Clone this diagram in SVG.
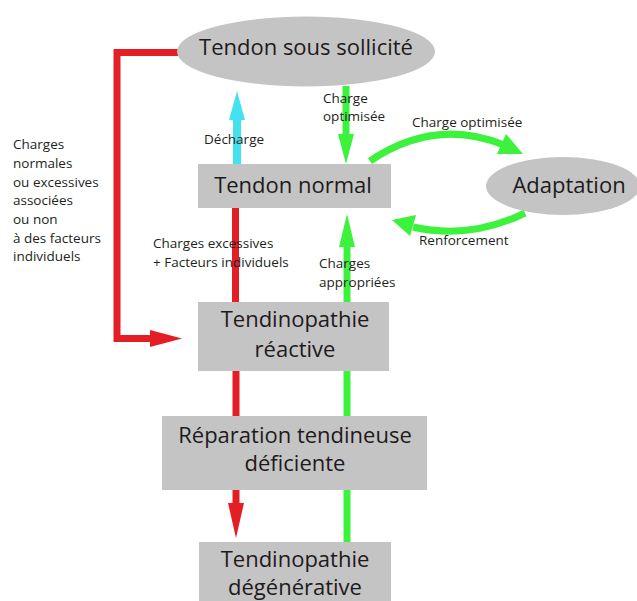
<svg xmlns="http://www.w3.org/2000/svg" width="637" height="601" viewBox="0 0 637 601">
<style>
.box{fill:#c4c4c4}
.big{font-family:"Open Sans","Liberation Sans",sans-serif;font-size:22px;fill:#1e1a1b;text-anchor:middle}
.sm{font-family:"Open Sans","Liberation Sans",sans-serif;font-size:13.5px;fill:#231f20}
.red{stroke:#e31e24;fill:none;stroke-width:7}
.grn{stroke:#3cf23c;fill:none;stroke-width:7}
.cyn{stroke:#44e2f0;fill:none;stroke-width:8}
.rh{fill:#e31e24}
.gh{fill:#3cf23c}
.ch{fill:#44e2f0}
</style>
<rect width="637" height="601" fill="#ffffff"/>
<g id="connectors">
  <path class="red" d="M178,52.5 H117 V338.5 H152"/>
  <polygon class="rh" points="150,330 182,338.5 150,347"/>
  <path class="cyn" d="M237,164 V118"/>
  <polygon class="ch" points="229,120 237,91 245,120"/>
  <path class="grn" d="M346,86 V136"/>
  <polygon class="gh" points="338,134 346,164 354,134"/>
  <path class="grn" d="M347,302 V244"/>
  <polygon class="gh" points="339,247 347,214 355,247"/>
  <path class="red" d="M235.5,208 V302"/>
  <path class="red" d="M236,371 V416"/>
  <path class="grn" d="M347,371 V416"/>
  <path class="red" d="M236,490 V505"/>
  <polygon class="rh" points="228,503 236,538 244,503"/>
  <path class="grn" d="M347,490 V542"/>
  <path class="grn" d="M370,161 Q435,117 504,145"/>
  <polygon class="gh" points="497,154 523,154 506,134"/>
  <path class="grn" d="M525,213 Q470,240 413,227"/>
  <polygon class="gh" points="416,215 392,220 410,236"/>
</g>
<g id="tendon-sous-sollicite">
  <ellipse class="box" cx="306" cy="51.5" rx="129" ry="35"/>
  <text class="big" x="306" y="55">Tendon sous sollicité</text>
</g>
<g id="tendon-normal">
  <rect class="box" x="198" y="164" width="193" height="44"/>
  <text class="big" x="293" y="193">Tendon normal</text>
</g>
<g id="adaptation">
  <ellipse class="box" cx="563" cy="186" rx="77" ry="29"/>
  <text class="big" x="569" y="193">Adaptation</text>
</g>
<g id="tendinopathie-reactive">
  <rect class="box" x="198" y="302" width="191" height="69"/>
  <text class="big" x="295" y="327">Tendinopathie</text>
  <text class="big" x="295" y="357">réactive</text>
</g>
<g id="reparation">
  <rect class="box" x="162" y="416" width="265" height="74"/>
  <text class="big" x="295" y="443">Réparation tendineuse</text>
  <text class="big" x="295" y="471">déficiente</text>
</g>
<g id="tendinopathie-degenerative">
  <rect class="box" x="199" y="542" width="192" height="59"/>
  <text class="big" x="295" y="567">Tendinopathie</text>
  <text class="big" x="295" y="595">dégénérative</text>
</g>
<g id="labels">
  <text class="sm" x="323" y="103">Charge</text>
  <text class="sm" x="323" y="121">optimisée</text>
  <text class="sm" x="204" y="144">Décharge</text>
  <text class="sm" x="412" y="127">Charge optimisée</text>
  <text class="sm" x="419" y="245">Renforcement</text>
  <text class="sm" x="153" y="248">Charges excessives</text>
  <text class="sm" x="153" y="267">+ Facteurs individuels</text>
  <text class="sm" x="319" y="268">Charges</text>
  <text class="sm" x="319" y="287">appropriées</text>
  <text class="sm" x="13" y="149">Charges</text>
  <text class="sm" x="13" y="168">normales</text>
  <text class="sm" x="13" y="187">ou excessives</text>
  <text class="sm" x="13" y="205">associées</text>
  <text class="sm" x="13" y="224">ou non</text>
  <text class="sm" x="13" y="243">à des facteurs</text>
  <text class="sm" x="13" y="261">individuels</text>
</g>
</svg>
